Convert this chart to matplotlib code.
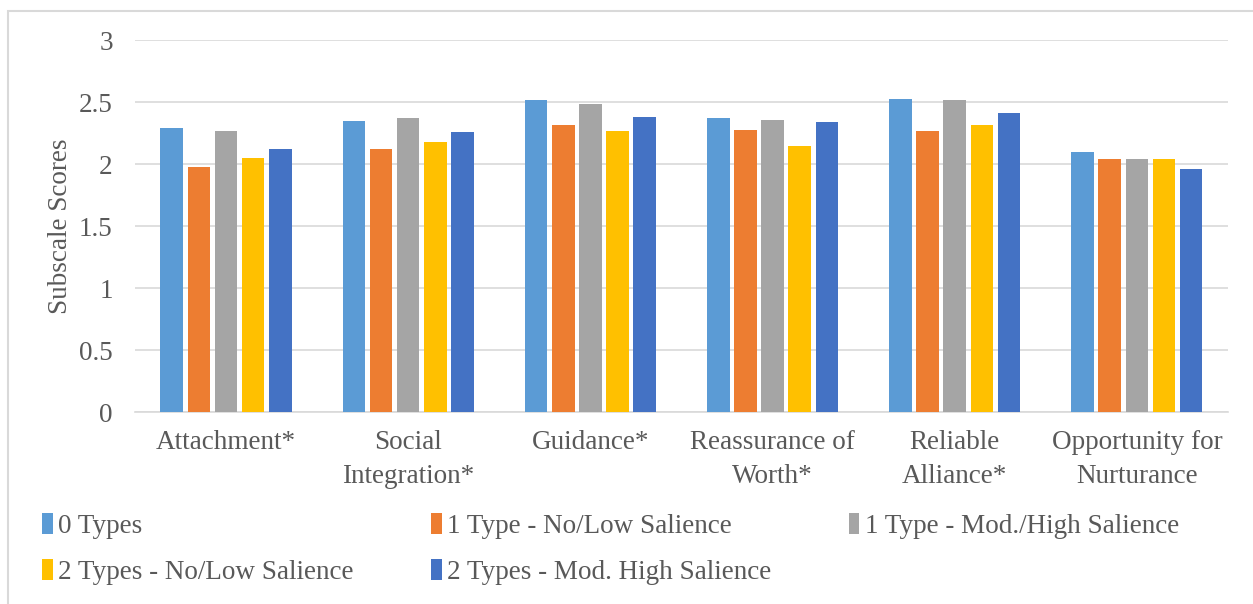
import numpy as np
import matplotlib.pyplot as plt
from matplotlib.patches import Rectangle

plt.rcParams['font.family'] = ['Liberation Serif', 'DejaVu Serif']

categories = ["Attachment*", "Social\nIntegration*", "Guidance*",
              "Reassurance of\nWorth*", "Reliable\nAlliance*",
              "Opportunity for\nNurturance"]
series = ["0 Types", "1 Type - No/Low Salience", "1 Type - Mod./High Salience",
          "2 Types - No/Low Salience", "2 Types - Mod. High Salience"]
types0 = [2.29, 2.35, 2.52, 2.37, 2.53, 2.10]
type1_low = [1.98, 2.12, 2.32, 2.28, 2.27, 2.04]
type1_high = [2.27, 2.37, 2.49, 2.36, 2.52, 2.04]
types2_low = [2.05, 2.18, 2.27, 2.15, 2.32, 2.04]
types2_high = [2.12, 2.26, 2.38, 2.34, 2.41, 1.96]
colors = ["#5B9BD5", "#ED7D31", "#A5A5A5", "#FFC000", "#4472C4"]

txt = "#595959"
fs = 19.5
fig = plt.figure(figsize=(12.53, 6.04), dpi=100)
ax = fig.add_axes([0.1077, 0.3174, 0.8723, 0.6159])

x = np.arange(len(categories))
slot = 0.149
w = 0.124
handles = []
for i, vals in enumerate([types0, type1_low, type1_high, types2_low, types2_high]):
    b = ax.bar(x + (i - 2) * slot, vals, w, color=colors[i], label=series[i], zorder=3)
    handles.append(b)

ax.set_xlim(-0.5, len(categories) - 0.5)
ax.set_ylim(0, 3)
ax.set_yticks([0, 0.5, 1, 1.5, 2, 2.5, 3])
ax.set_yticklabels(["0", "0.5", "1", "1.5", "2", "2.5", "3"])
ax.set_xticks(x)
ax.set_xticklabels(categories, linespacing=1.45)
ax.tick_params(axis='y', length=0, pad=16, labelsize=fs, labelcolor=txt)
ax.tick_params(axis='x', length=0, pad=13, labelsize=fs, labelcolor=txt)
ax.yaxis.grid(True, color="#D9D9D9", linewidth=1.2, zorder=0)
for s in ["top", "right", "left"]:
    ax.spines[s].set_visible(False)
ax.spines["bottom"].set_color("#D9D9D9")
ax.spines["bottom"].set_linewidth(1.2)
ax.set_ylabel("Subscale Scores", fontsize=fs, color=txt, labelpad=4)

order = [0, 3, 1, 4, 2]
leg = fig.legend([handles[k] for k in order], [series[k] for k in order],
                 ncol=3, loc="upper left", bbox_to_anchor=(0.014, 0.191),
                 frameon=False, fontsize=fs, handlelength=0.4, handleheight=0.8,
                 handletextpad=0.2, columnspacing=2.85, labelspacing=0.75)
for t in leg.get_texts():
    t.set_color(txt)

fig.patches.append(Rectangle((0.006, -0.01), 1.0, 0.992, transform=fig.transFigure,
                             fill=False, edgecolor="#D9D9D9", linewidth=1.5))

fig.savefig("out.png", dpi=100)
